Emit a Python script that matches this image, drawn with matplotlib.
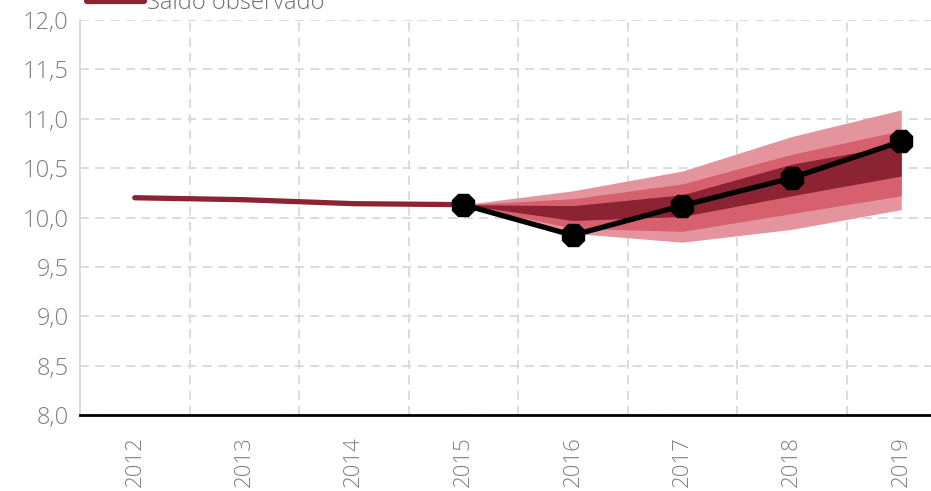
import matplotlib
matplotlib.use('Agg')

import matplotlib.pyplot as plt
import numpy as np

# Daten
anos = ['2012', '2013', '2014', '2015', '2016', '2017', '2018', '2019']
saldo_obs = [10.20, 10.18, 10.14, 10.13]
projecao = [10.13, 9.82, 10.12, 10.40, 10.77]

# Leque (2015-2019): limites inferior/superior de cada faixa
ext_inf = [10.13, 9.84, 9.75, 9.88, 10.08]
ext_sup = [10.13, 10.27, 10.47, 10.82, 11.09]
med_inf = [10.13, 9.89, 9.86, 10.04, 10.22]
med_sup = [10.13, 10.19, 10.34, 10.64, 10.88]
int_inf = [10.13, 9.97, 10.01, 10.22, 10.42]
int_sup = [10.13, 10.12, 10.23, 10.54, 10.74]

yticks = [8.0, 8.5, 9.0, 9.5, 10.0, 10.5, 11.0, 11.5, 12.0]

vermelho = '#8B2332'
cinza_txt = '#7F7F7F'
cinza_grade = '#D9D9D9'

plt.rcParams['font.family'] = ['Open Sans', 'DejaVu Sans']


def main():
    fig = plt.figure(figsize=(9.31, 4.91), dpi=100)
    ax = fig.add_axes([80 / 931, 1 - 415 / 491, 876 / 931, 395 / 491])

    x = np.arange(len(anos))
    x_proj = x[3:]

    ax.fill_between(x_proj, ext_inf, ext_sup, color='#E3949D', lw=0, zorder=2)
    ax.fill_between(x_proj, med_inf, med_sup, color='#D6606E', lw=0, zorder=3)
    ax.fill_between(x_proj, int_inf, int_sup, color=vermelho, lw=0, zorder=4)

    ax.plot(x[:4], saldo_obs, color=vermelho, lw=3.8, solid_capstyle='round',
            zorder=5, label='Saldo observado')
    ax.plot(x_proj, projecao, color='black', lw=3.8, marker='8', markersize=17,
            zorder=6)

    ax.set_xlim(-0.5, len(anos) - 0.5)
    ax.set_ylim(8, 12)
    ax.set_yticks(yticks)
    ax.set_yticklabels(['{:.1f}'.format(v).replace('.', ',') for v in yticks],
                       fontsize=17, color=cinza_txt, fontweight='light')
    ax.set_xticks(x)
    ax.set_xticklabels(anos, rotation=90, fontsize=16, color=cinza_txt,
                       fontweight='light')
    ax.set_xticks(x[:-1] + 0.5, minor=True)
    ax.tick_params(axis='both', which='both', length=0)
    ax.tick_params(axis='x', pad=15)
    ax.tick_params(axis='y', pad=8)

    ax.grid(axis='y', which='major', color=cinza_grade, ls=(0, (5, 3.5)), lw=1.3, zorder=0)
    ax.grid(axis='x', which='minor', color=cinza_grade, ls=(0, (5, 3.5)), lw=1.3, zorder=0)
    ax.grid(axis='x', which='major', visible=False)

    for s in ['top', 'right']:
        ax.spines[s].set_visible(False)
    ax.spines['left'].set_color(cinza_grade)
    ax.spines['left'].set_linewidth(1.3)
    ax.spines['bottom'].set_color('black')
    ax.spines['bottom'].set_linewidth(2)
    ax.spines['bottom'].set_zorder(7)

    leg = fig.legend(loc='center left', bbox_to_anchor=(87 / 931, 1 - 3 / 491),
                     frameon=False, borderpad=0, borderaxespad=0,
                     handlelength=2.4, handletextpad=0.15,
                     prop={'size': 17, 'weight': 'light'})
    for t in leg.get_texts():
        t.set_color('#6F6F6F')
    for h in leg.get_lines():
        h.set_linewidth(4.5)

    fig.savefig('out.png', dpi=100)
    plt.close(fig)


if __name__ == "__main__":
    main()
